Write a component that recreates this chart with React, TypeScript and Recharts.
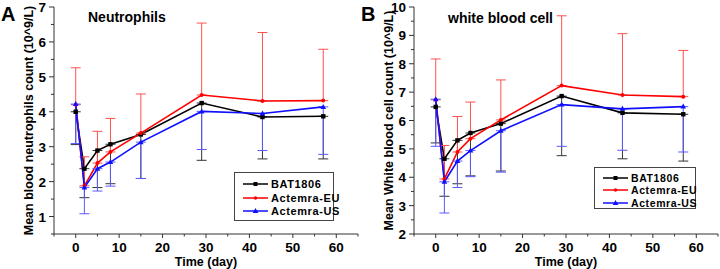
import { CartesianGrid, ErrorBar, Legend, Line, LineChart, XAxis, YAxis } from "recharts";

const days = [0, 2, 5, 8, 15, 29, 43, 57];

// panel A: neutrophils (10^9/L)
const neutBat = [4.0, 2.37, 2.89, 3.07, 3.35, 4.25, 3.85, 3.87];
const neutBatLow = [3.06, 1.54, 1.83, 1.94, 2.09, 2.61, 2.65, 2.65];
const neutEu = [4.2, 1.88, 2.53, 2.85, 3.39, 4.48, 4.31, 4.32];
const neutEuHigh = [5.26, 2.71, 3.44, 3.81, 4.51, 6.54, 6.27, 5.79];
const neutUs = [4.22, 1.83, 2.37, 2.56, 3.13, 4.01, 3.95, 4.14];
const neutUsLow = [3.09, 1.08, 1.73, 1.87, 2.09, 2.92, 2.89, 2.78];

// panel B: white blood cell (10^9/L)
const wbcBat = [6.48, 4.65, 5.3, 5.56, 5.89, 6.86, 6.27, 6.22];
const wbcBatLow = [5.21, 3.33, 3.77, 4.05, 4.22, 4.76, 4.65, 4.57];
const wbcEu = [6.73, 3.94, 4.89, 5.36, 6.02, 7.23, 6.9, 6.84];
const wbcEuHigh = [8.17, 5.12, 6.14, 6.65, 7.43, 9.69, 9.06, 8.47];
const wbcUs = [6.75, 3.84, 4.57, 4.94, 5.64, 6.56, 6.41, 6.49];
const wbcUsLow = [5.09, 2.74, 3.64, 4.02, 4.18, 5.09, 4.95, 4.89];

const xTicks = [-5, 0, 5, 10, 15, 20, 25, 30, 35, 40, 45, 50, 55, 60, 65];
const neutTicks = [0.5, 1, 1.5, 2, 2.5, 3, 3.5, 4, 4.5, 5, 5.5, 6, 6.5, 7];
const wbcTicks = [2, 2.5, 3, 3.5, 4, 4.5, 5, 5.5, 6, 6.5, 7, 7.5, 8, 8.5, 9, 9.5, 10];

const seriesNames = ["BAT1806", "Actemra-EU", "Actemra-US"];

const FONT = '"Liberation Sans", Arial, sans-serif';
const AXIS = "#333";

function buildRows(
  bat: number[], batLow: number[],
  eu: number[], euHigh: number[],
  us: number[], usLow: number[],
) {
  return days.map((d, i) => ({
    day: d,
    bat: bat[i],
    eu: eu[i],
    us: us[i],
    batErr: [bat[i] - batLow[i], 0],
    euErr: [0, euHigh[i] - eu[i]],
    usErr: [us[i] - usLow[i], 0],
  }));
}

const XTick = (props: any) => {
  const { x, y, payload } = props;
  const v = payload.value as number;
  const major = v % 10 === 0;
  return (
    <g>
      <line x1={x} x2={x} y1={y} y2={y + (major ? 4 : 2.5)} stroke={AXIS} />
      {major && (
        <text x={x} y={y + 17.5} textAnchor="middle" fontFamily={FONT} fontWeight="bold" fontSize={13.5} fill="#000">
          {v}
        </text>
      )}
    </g>
  );
};

const YTick = (props: any) => {
  const { x, y, payload } = props;
  const v = payload.value as number;
  const major = Number.isInteger(v);
  return (
    <g>
      <line x1={x} x2={x - (major ? 5 : 3)} y1={y} y2={y} stroke={AXIS} />
      {major && (
        <text x={x - 8} y={y + 5} textAnchor="end" fontFamily={FONT} fontWeight="bold" fontSize={13.5} fill="#000">
          {v}
        </text>
      )}
    </g>
  );
};

const squareDot = (props: any) => {
  const { cx, cy, index } = props;
  return <rect key={`s${index}`} x={cx - 2.2} y={cy - 2.2} width={4.4} height={4.4} fill="#000" />;
};
const roundDot = (props: any) => {
  const { cx, cy, index } = props;
  return <circle key={`c${index}`} cx={cx} cy={cy} r={2} fill="#ff0000" />;
};
const triDot = (props: any) => {
  const { cx, cy, index } = props;
  return (
    <path key={`t${index}`} d={`M${cx},${cy - 3} L${cx + 2.8},${cy + 2} L${cx - 2.8},${cy + 2} Z`} fill="#1010ff" />
  );
};

const legendMarks = [
  { color: "#000", mark: (x: number, y: number) => <rect x={x - 2} y={y - 2} width={4} height={4} fill="#000" /> },
  { color: "#ff0000", mark: (x: number, y: number) => <circle cx={x} cy={y} r={1.7} fill="#ff0000" /> },
  {
    color: "#1010ff",
    mark: (x: number, y: number) => <path d={`M${x},${y - 3} L${x + 2.8},${y + 2} L${x - 2.8},${y + 2} Z`} fill="#1010ff" />,
  },
];

function LegendBox({ w, h, rows, fontSize }: { w: number; h: number; rows: number[]; fontSize: number }) {
  return (
    <div style={{ width: w, height: h, border: "1px solid #444", boxSizing: "border-box", position: "relative", background: "#fff" }}>
      {seriesNames.map((name, i) => (
        <div
          key={name}
          style={{ position: "absolute", left: 0, top: rows[i] - 8, height: 16, display: "flex", alignItems: "center", whiteSpace: "nowrap" }}
        >
          <svg width={36} height={16} style={{ flex: "none" }}>
            <line x1={8} x2={33} y1={8} y2={8} stroke={legendMarks[i].color} strokeWidth={1.5} />
            {legendMarks[i].mark(20.5, 8)}
          </svg>
          <span style={{ fontFamily: FONT, fontWeight: "bold", fontSize, letterSpacing: 0.6, color: "#000", lineHeight: "16px" }}>
            {name}
          </span>
        </div>
      ))}
    </div>
  );
}

function Panel(props: {
  rows: any[];
  yDomain: [number, number];
  yTicks: number[];
  yLabel: string;
  legend: { left: number; top: number; w: number; h: number; rows: number[]; fontSize: number };
}) {
  const { rows, yDomain, yTicks, yLabel, legend } = props;
  return (
    <LineChart width={360} height={269} data={rows} margin={{ top: 7, right: 2, bottom: 0, left: 0 }}>
      <CartesianGrid stroke="none" />
      <XAxis
        dataKey="day"
        type="number"
        domain={[-5, 65]}
        ticks={xTicks}
        interval={0}
        height={35}
        tickSize={0}
        tickMargin={0}
        tick={<XTick />}
        stroke={AXIS}
        label={{ value: "Time (day)", position: "insideBottom", offset: 3, fontFamily: FONT, fontWeight: "bold", fontSize: 12.5, fill: "#000" }}
      />
      <YAxis
        type="number"
        domain={yDomain}
        ticks={yTicks}
        interval={0}
        width={54}
        tickSize={0}
        tickMargin={0}
        tick={<YTick />}
        stroke={AXIS}
        label={{
          content: (p: any) => {
            const vb = p.viewBox || { y: 7, height: 227 };
            const cy = vb.y + vb.height / 2;
            return (
              <text
                x={33}
                y={cy}
                transform={`rotate(-90 33 ${cy})`}
                textAnchor="middle"
                fontFamily={FONT}
                fontWeight="bold"
                fontSize={12.5}
                fill="#000"
              >
                {yLabel}
              </text>
            );
          },
        }}
      />
      <Legend
        layout="vertical"
        align="center"
        verticalAlign="middle"
        wrapperStyle={{ left: legend.left, top: legend.top, width: legend.w, height: legend.h }}
        content={() => <LegendBox w={legend.w} h={legend.h} rows={legend.rows} fontSize={legend.fontSize} />}
      />
      <Line dataKey="bat" name="BAT1806" stroke="#000" strokeWidth={1.6} dot={squareDot} isAnimationActive={false}>
        <ErrorBar dataKey="batErr" direction="y" width={5} stroke="#333" strokeWidth={1} isAnimationActive={false} />
      </Line>
      <Line dataKey="eu" name="Actemra-EU" stroke="#ff0000" strokeWidth={1.6} dot={roundDot} isAnimationActive={false}>
        <ErrorBar dataKey="euErr" direction="y" width={5} stroke="#ff5050" strokeWidth={1} isAnimationActive={false} />
      </Line>
      <Line dataKey="us" name="Actemra-US" stroke="#1010ff" strokeWidth={1.6} dot={triDot} isAnimationActive={false}>
        <ErrorBar dataKey="usErr" direction="y" width={5} stroke="#5a5aff" strokeWidth={1} isAnimationActive={false} />
      </Line>
    </LineChart>
  );
}

const neutRows = buildRows(neutBat, neutBatLow, neutEu, neutEuHigh, neutUs, neutUsLow);
const wbcRows = buildRows(wbcBat, wbcBatLow, wbcEu, wbcEuHigh, wbcUs, wbcUsLow);

const overlay = (left: number, top: number, size: number, text: string) => (
  <div
    style={{ position: "absolute", left, top, fontFamily: FONT, fontWeight: "bold", fontSize: size, lineHeight: 1, color: "#000", pointerEvents: "none", whiteSpace: "nowrap" }}
  >
    {text}
  </div>
);

export default function App() {
  return (
    <div style={{ position: "absolute", left: 0, top: 0, width: 720, height: 269, background: "#fff", overflow: "hidden" }}>
      <div style={{ position: "absolute", left: 0, top: 0 }}>
        <Panel
          rows={neutRows}
          yDomain={[0.5, 7]}
          yTicks={neutTicks}
          yLabel="Mean blood neutrophils count (10^9/L)"
          legend={{ left: 234, top: 172, w: 100, h: 49, rows: [10.5, 24.5, 38], fontSize: 11 }}
        />
      </div>
      <div style={{ position: "absolute", left: 360, top: 0 }}>
        <Panel
          rows={wbcRows}
          yDomain={[2, 10]}
          yTicks={wbcTicks}
          yLabel="Mean White blood cell count (10^9/L)"
          legend={{ left: 234, top: 167, w: 102, h: 42, rows: [10, 22, 35], fontSize: 10.5 }}
        />
      </div>
      {overlay(1, 4, 20, "A")}
      {overlay(361, 4, 20, "B")}
      {overlay(88, 10, 14, "Neutrophils")}
      {overlay(448, 11, 14, "white blood cell")}
    </div>
  );
}
